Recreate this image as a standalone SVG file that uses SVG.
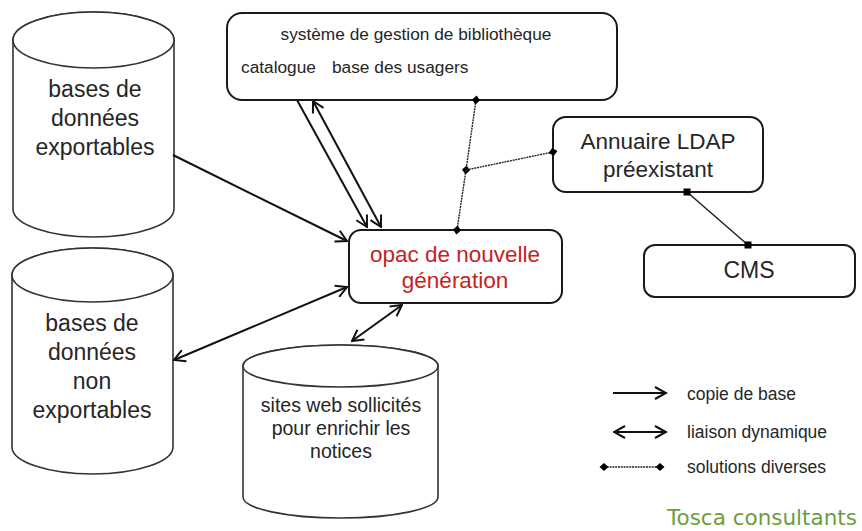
<svg xmlns="http://www.w3.org/2000/svg" width="862" height="531" viewBox="0 0 862 531">
<style>
text{font-family:"Liberation Sans",Arial,sans-serif;fill:#262626}
.box{fill:#fff;stroke:#1a1a1a;stroke-width:2}
.cyl{fill:#fff;stroke:#333;stroke-width:1.6}
.arr{fill:none;stroke:#111;stroke-width:2}
.sol{fill:none;stroke:#222;stroke-width:1.4;stroke-dasharray:2 0.8}
.big{font-size:23px}
.red{fill:#c42323}
</style>
<defs>
<marker id="ah" markerUnits="userSpaceOnUse" viewBox="0 0 14 14" markerWidth="14" markerHeight="14" refX="12.5" refY="7" orient="auto-start-reverse">
<path d="M1.5,1 L12.5,7 L1.5,13" fill="none" stroke="#111" stroke-width="2"/>
</marker>
<marker id="dot" markerUnits="userSpaceOnUse" viewBox="0 0 10 10" markerWidth="10" markerHeight="10" refX="5" refY="5" orient="auto">
<path d="M0.5,5 L5,1 L9.5,5 L5,9 Z" fill="#000"/>
</marker>
<marker id="sq" markerUnits="userSpaceOnUse" viewBox="0 0 8 8" markerWidth="8" markerHeight="8" refX="4" refY="4">
<rect x="0.5" y="0.5" width="7" height="7" fill="#000"/>
</marker>
</defs>

<g id="db-exportables">
<path class="cyl" d="M13,40 A80.5,28 0 0 1 174,40 L174,209 A80.5,28 0 0 1 13,209 Z"/>
<ellipse class="cyl" cx="93.5" cy="40" rx="80.5" ry="28"/>
<text class="big" x="95" y="97" text-anchor="middle">bases de</text>
<text class="big" x="95" y="126" text-anchor="middle">données</text>
<text class="big" x="95" y="155" text-anchor="middle">exportables</text>
</g>

<g id="db-non-exportables">
<path class="cyl" d="M12,275 A80.5,27 0 0 1 173,275 L173,447 A80.5,27 0 0 1 12,447 Z"/>
<ellipse class="cyl" cx="92.5" cy="275" rx="80.5" ry="27"/>
<text class="big" x="92" y="331" text-anchor="middle">bases de</text>
<text class="big" x="92" y="360" text-anchor="middle">données</text>
<text class="big" x="92" y="389" text-anchor="middle">non</text>
<text class="big" x="92" y="418" text-anchor="middle">exportables</text>
</g>

<g id="sites-web">
<path class="cyl" d="M243,366 A97.5,21 0 0 1 438,366 L438,497 A97.5,21 0 0 1 243,497 Z"/>
<ellipse class="cyl" cx="340.5" cy="366" rx="97.5" ry="21"/>
<text x="341" y="412" font-size="19.5" text-anchor="middle">sites web sollicités</text>
<text x="341" y="435" font-size="19.5" text-anchor="middle">pour enrichir les</text>
<text x="341" y="458" font-size="19.5" text-anchor="middle">notices</text>
</g>

<g id="sgb">
<rect class="box" x="227" y="13" width="390" height="87" rx="15"/>
<text x="416" y="40" font-size="17.3" text-anchor="middle">système de gestion de bibliothèque</text>
<text x="241" y="73" font-size="17.3">catalogue</text>
<text x="332" y="73" font-size="17.3">base des usagers</text>
</g>

<g id="opac">
<rect class="box" x="349" y="230" width="213" height="73" rx="12"/>
<text class="red" x="455" y="262" text-anchor="middle" style="font-size:22.5px">opac de nouvelle</text>
<text class="red" x="455" y="288" text-anchor="middle" style="font-size:22.5px">génération</text>
</g>

<g id="ldap">
<rect class="box" x="553" y="117" width="210" height="75" rx="13"/>
<text x="658" y="149" text-anchor="middle" font-size="22.5">Annuaire LDAP</text>
<text x="658" y="177" text-anchor="middle" font-size="22.5">préexistant</text>
</g>

<g id="cms">
<rect class="box" x="644" y="245" width="211" height="52" rx="11"/>
<text x="749" y="278" text-anchor="middle" font-size="23">CMS</text>
</g>

<g id="connectors">
<line class="arr" x1="173" y1="155" x2="347" y2="241" marker-end="url(#ah)"/>
<line class="arr" x1="347" y1="287" x2="174" y2="360" marker-start="url(#ah)" marker-end="url(#ah)"/>
<line class="arr" x1="297" y1="100" x2="367" y2="227" marker-end="url(#ah)"/>
<line class="arr" x1="313" y1="101" x2="381" y2="227" marker-start="url(#ah)" marker-end="url(#ah)"/>
<line class="arr" x1="402" y1="305" x2="352" y2="341" marker-start="url(#ah)" marker-end="url(#ah)"/>
<line class="sol" x1="476" y1="100" x2="466" y2="170" marker-start="url(#dot)" marker-end="url(#dot)"/>
<line class="sol" x1="466" y1="170" x2="457" y2="230" marker-end="url(#dot)"/>
<line class="sol" x1="466" y1="170" x2="553" y2="152" marker-end="url(#dot)"/>
<line x1="687" y1="192" x2="748" y2="245" stroke="#222" stroke-width="1.5" marker-start="url(#sq)" marker-end="url(#sq)"/>
</g>

<g id="legend">
<line class="arr" x1="613" y1="393" x2="666" y2="393" marker-end="url(#ah)"/>
<text x="687" y="400" font-size="17.5">copie de base</text>
<line class="arr" x1="614" y1="432" x2="666" y2="432" marker-start="url(#ah)" marker-end="url(#ah)"/>
<text x="687" y="438" font-size="17.5">liaison dynamique</text>
<line class="sol" x1="604" y1="467" x2="660" y2="467" marker-start="url(#dot)" marker-end="url(#dot)"/>
<text x="687" y="473" font-size="17.5">solutions diverses</text>
<text x="667" y="525" style="font-family:'DejaVu Sans',Verdana,sans-serif;fill:#6c9e3c" font-size="21.5">Tosca consultants</text>
</g>
</svg>
